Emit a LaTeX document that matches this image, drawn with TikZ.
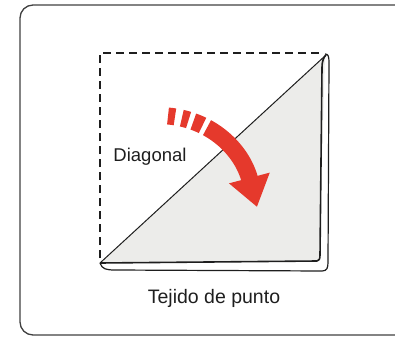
\documentclass[tikz,border=0pt]{standalone}
\usepackage{fontspec}
\setmainfont{Liberation Sans}
\usetikzlibrary{arrows.meta}
\definecolor{foldred}{HTML}{E5392C}
\definecolor{clothgray}{HTML}{ECECEA}
\definecolor{inkblack}{HTML}{1E1E1E}

\begin{document}
\begin{tikzpicture}[x=1pt, y=-1pt,
  frame/.style={draw=inkblack!85, line width=1.3pt, rounded corners=13pt},
  edge/.style={draw=inkblack, line width=1.6pt, line join=round},
  fold/.style={draw=inkblack, line width=1pt},
  crease/.style={draw=inkblack, line width=1.1pt, dash pattern=on 8pt off 5pt},
  lbl/.style={font=\fontsize{18.5}{20}\selectfont, text=inkblack, inner sep=0pt},
  turn/.style={draw=foldred, line width=17pt, -{Triangle[length=30pt,width=40pt]},
    dash pattern=on 7pt off 7pt on 7pt off 5pt on 10pt off 5pt on 300pt}]

\useasboundingbox (0,0) rectangle (395,339);
\draw[frame] (410,5) -- (20,5) -- (20,335) -- (410,335);

% folded cloth
\fill[clothgray] (100,263) -- (325,56) -- (319,261) -- cycle;
\draw[edge, line width=1.2pt] (100,263) .. controls (102,269) and (106,270) .. (115,270)
  -- (322,271) .. controls (327,271) and (328,268) .. (328,262)
  -- (329,62) .. controls (329,56) and (328,54) .. (325,54);
\draw[edge] (100,263) -- (317,261) .. controls (319,261) and (320,259) .. (320,255)
  -- (322,68) .. controls (322,60) and (324,57) .. (326,55);
\draw[fold] (100,263) -- (326,55);
\draw[crease] (100,258) -- (100,53) -- (322,53);

\draw[turn] (168,116) .. controls (212,120) and (242,150) .. (257,207);

\node[lbl] (diag) at (150,157) {Diagonal};
\node[lbl, font=\fontsize{19.5}{21}\selectfont] (caption) at (214,298) {Tejido de punto};
\end{tikzpicture}
\end{document}
